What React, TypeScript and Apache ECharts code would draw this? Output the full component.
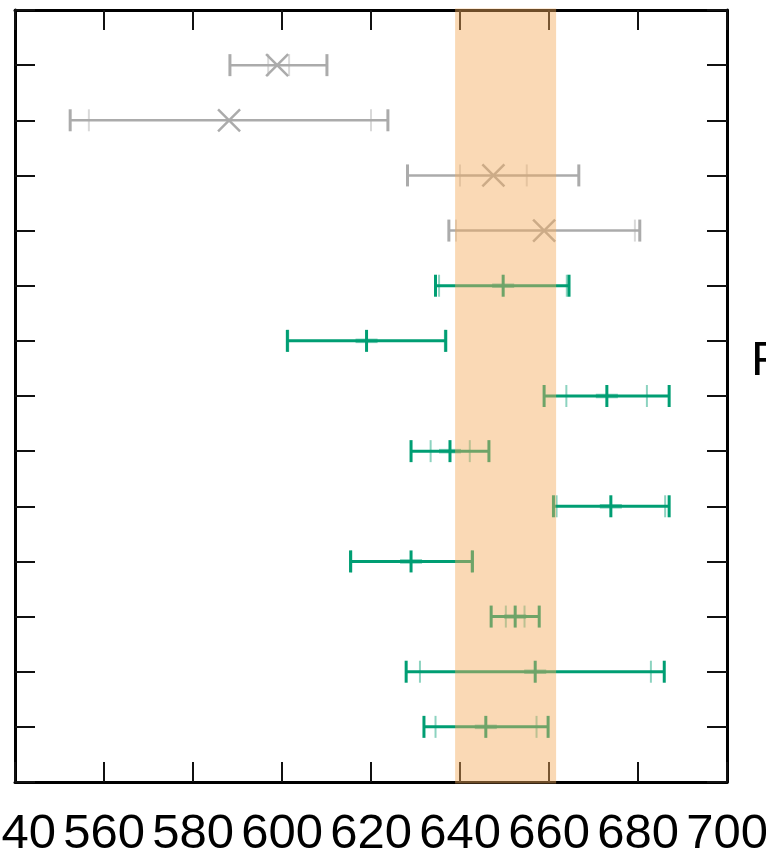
import React, { useEffect, useRef } from "react";
import * as echarts from "echarts";

// Rows (1 = bottom, 13 = top)
const rows = [13, 12, 11, 10, 9, 8, 7, 6, 5, 4, 3, 2, 1];
const centers = [598.9, 588.1, 647.5, 658.9, 649.7, 619.0, 673.0, 637.75, 673.9, 629.0, 652.4, 656.9, 645.8];
const innerLo = [596.9, 556.6, 640.0, 639.1, 635.3, 601.4, 663.9, 633.4, 661.7, 615.6, 650.3, 631.0, 634.5];
const innerHi = [601.6, 620.0, 655.0, 679.3, 664.0, 636.6, 682.0, 642.2, 686.1, 642.6, 654.5, 682.9, 657.2];
const outerLo = [588.3, 552.4, 628.2, 637.5, 634.5, 601.2, 658.9, 629.0, 661.0, 615.4, 647.0, 627.9, 631.9];
const outerHi = [610.1, 623.8, 666.7, 680.4, 664.5, 636.8, 687.0, 646.5, 687.0, 642.8, 657.8, 685.9, 659.8];
// 1 = grey cross marker, 0 = green tick marker
const groups = [1, 1, 1, 1, 0, 0, 0, 0, 0, 0, 0, 0, 0];

const bandLo = 638.9;
const bandHi = 661.6;

const xMin = 540;
const xMax = 700;
const xStep = 20;
const yMin = 0;
const yMax = 14;

const GREEN = "#009e73";
const GREY = "#ababab";

export default function App() {
  const ref = useRef<HTMLDivElement>(null);

  useEffect(() => {
    if (!ref.current) return;
    const chart = echarts.init(ref.current, undefined, { renderer: "svg" });

    const data = rows.map((r, i) => [r, centers[i], innerLo[i], innerHi[i], outerLo[i], outerHi[i], groups[i]]);

    const axisCommon = {
      axisLine: { show: true, onZero: false, lineStyle: { color: "#000", width: 3 } },
      axisTick: { show: true, inside: true, length: 20, lineStyle: { color: "#111", width: 2 } },
      splitLine: { show: false },
    };

    const option: any = {
      animation: false,
      backgroundColor: "#fff",
      grid: { left: 15, right: 39, top: 10, bottom: 70, containLabel: false, outerBoundsMode: "none" },
      xAxis: [
        {
          type: "value",
          min: xMin,
          max: xMax,
          interval: xStep,
          position: "bottom",
          ...axisCommon,
          axisLabel: {
            show: true,
            fontSize: 49,
            color: "#000",
            margin: 24,
            fontFamily: "Liberation Sans, Arial, sans-serif",
            showMinLabel: true,
            showMaxLabel: true,
            hideOverlap: false,
          },
        },
        {
          type: "value",
          min: xMin,
          max: xMax,
          interval: xStep,
          position: "top",
          ...axisCommon,
          axisLabel: { show: false },
        },
      ],
      yAxis: [
        {
          type: "value",
          min: yMin,
          max: yMax,
          interval: 1,
          position: "left",
          ...axisCommon,
          axisLabel: { show: false },
        },
        {
          type: "value",
          min: yMin,
          max: yMax,
          interval: 1,
          position: "right",
          ...axisCommon,
          axisLabel: { show: false },
        },
      ],
      graphic: [
        {
          type: "text",
          left: 751,
          top: 333,
          style: {
            text: "F",
            fontSize: 49,
            fontFamily: "Liberation Sans, Arial, sans-serif",
            fill: "#000",
          },
        },
      ],
      series: [
        {
          type: "custom",
          xAxisIndex: 0,
          yAxisIndex: 0,
          z: 3,
          clip: false,
          data,
          encode: { x: [1, 2, 3, 4, 5], y: 0 },
          renderItem: (params: any, api: any) => {
            const row = api.value(0);
            const c = api.value(1);
            const il = api.value(2);
            const ih = api.value(3);
            const ol = api.value(4);
            const oh = api.value(5);
            const grey = api.value(6) === 1;
            const color = grey ? GREY : GREEN;
            const pc = api.coord([c, row]);
            const pil = api.coord([il, row]);
            const pih = api.coord([ih, row]);
            const pol = api.coord([ol, row]);
            const poh = api.coord([oh, row]);
            const y = pc[1];
            const h = 11;
            const children: any[] = [];
            children.push({
              type: "line",
              shape: { x1: pol[0], y1: y, x2: poh[0], y2: y },
              style: { stroke: color, lineWidth: grey ? 2.5 : 3 },
            });
            [pil, pih].forEach((p) => {
              children.push({
                type: "line",
                shape: { x1: p[0], y1: y - h, x2: p[0], y2: y + h },
                style: { stroke: color, lineWidth: 2, opacity: 0.45 },
              });
            });
            [pol, poh].forEach((p) => {
              children.push({
                type: "line",
                shape: { x1: p[0], y1: y - h, x2: p[0], y2: y + h },
                style: { stroke: color, lineWidth: 3 },
              });
            });
            if (grey) {
              const s = 11;
              children.push({
                type: "line",
                shape: { x1: pc[0] - s, y1: y - s, x2: pc[0] + s, y2: y + s },
                style: { stroke: color, lineWidth: 2.5 },
              });
              children.push({
                type: "line",
                shape: { x1: pc[0] - s, y1: y + s, x2: pc[0] + s, y2: y - s },
                style: { stroke: color, lineWidth: 2.5 },
              });
            } else {
              children.push({
                type: "line",
                shape: { x1: pc[0] - 11, y1: y, x2: pc[0] + 11, y2: y },
                style: { stroke: color, lineWidth: 4.5, opacity: 0.5 },
              });
              children.push({
                type: "line",
                shape: { x1: pc[0], y1: y - h, x2: pc[0], y2: y + h },
                style: { stroke: color, lineWidth: 3 },
              });
            }
            return { type: "group", children };
          },
        },
        {
          type: "custom",
          xAxisIndex: 0,
          yAxisIndex: 0,
          z: 10,
          clip: false,
          data: [[bandLo, bandHi]],
          encode: { x: [0, 1] },
          renderItem: (params: any, api: any) => {
            const p1 = api.coord([api.value(0), yMax]);
            const p2 = api.coord([api.value(1), yMin]);
            return {
              type: "rect",
              shape: { x: p1[0], y: p1[1] - 1.5, width: p2[0] - p1[0], height: p2[1] - p1[1] + 3 },
              style: { fill: "rgba(245,170,90,0.45)" },
            };
          },
        },
      ],
    };

    chart.setOption(option);
    return () => chart.dispose();
  }, []);

  return (
    <div
      ref={ref}
      style={{ position: "absolute", left: 0, top: 0, width: 766, height: 852, overflow: "hidden" }}
    />
  );
}
